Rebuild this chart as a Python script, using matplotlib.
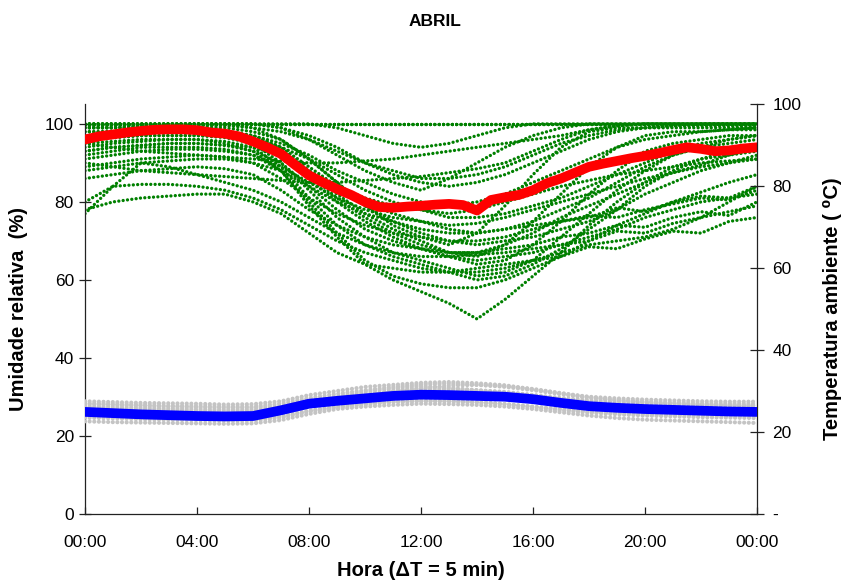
import numpy as np
import matplotlib
matplotlib.use("Agg")
import matplotlib.pyplot as plt
from matplotlib.ticker import FixedLocator, FuncFormatter

plt.rcParams['font.family'] = ['Liberation Sans', 'DejaVu Sans']

# ---------------- data ----------------
hours = list(range(25))                      # hourly samples 00:00 .. 24:00
half_hours = [i * 0.5 for i in range(49)]    # half-hourly samples

x_tick_hours = [0, 4, 8, 12, 16, 20, 24]
x_tick_labels = ["00:00", "04:00", "08:00", "12:00", "16:00", "20:00", "00:00"]
rh_ticks = [0, 20, 40, 60, 80, 100]
temp_ticks = [0, 20, 40, 60, 80, 100]

# daily relative humidity (%) curves, hourly
rh_days = [
    [100]*25,
    [100]*25,
    [100]*25,
    [100,100,100,100,100,100,100,100,100,99,97,95,94,95,97,99,100,100,100,100,100,100,100,100,100],
    [99,99,99.5,100,100,100,100,99,96,92,88,85,83,86,90,94,97,99,100,100,100,100,100,100,100],
    [99,99,99,99,99,99,98,96,91,85,79,74,71,69,72,79,87,94,98,99,99,99,99,99,99],
    [98,98,98.5,98.5,98.5,98,97,94,88,82,77,73,70,67,66,69,75,82,89,94,97,98,98,98.5,98.5],
    [97,97.5,98,98,98,97.5,96,92,86,80,75,71,68,66,64,65,69,75,82,88,93,95,96,97,97],
    [96,96.5,97,97,97,96.5,95,90,83,76,71,67,65,63,61,62,65,71,77,83,88,92,94,95,96],
    [95,95.5,96,96,96,95.5,94,89,81,74,69,66,64,62,60,61,64,68,73,78,84,88,91,93,94],
    [94,95,95.5,96,96,95,93,88,79,71,64,60,57,54,50,55,61,67,74,80,85,89,91,92,93],
    [95,94,93,92.5,92,91.5,91,90.5,90,90,90.5,91,92,93,94,95,96,97,98.5,99.5,100,100,100,100,100],
    [90,89,88,87.5,87,86.5,86,85.5,85,85,85.5,86,86.5,87.5,88.5,90,93,96,98.5,99.5,100,100,100,100,100],
    [93,94,94.5,95,95,94.5,94,92,88,84,81,79,78,77,78,80,82,84,85.5,87,88,89,90,90.5,91],
    [91,92,93,93.5,93.5,93,92,89,85,81,78,76,75,74,74.5,76,78,80,82,84,86,87.5,89,90,91],
    [89,90,91,91.5,92,91.5,90,86,81,77,74,72,71,70,70,71,73,75,76,78.5,77.5,80,81.5,81,84],
    [86,87,88,88.5,89,88.5,87,83,78,74,71,69,68,67,67,68,69,71,72,74,73.5,76,77.5,76.5,80],
    [77,84,90,89,87,85,83,80,76,72,69,67,66,66,66.5,67,68,69,70,72.5,72,74.5,76,77.5,79],
    [80,84,84.5,84.5,84,83,81,78,74,70,67,65,63,62,62,63,65,66,68.5,68,70.5,72.5,72,75,76],
    [78,80,81,81.5,82,82,80,77,72,67,64,63,62,62,63,64,65,67,69,70,71,73,76,80,84],
    [99,99,99,99,99,98,97,93,87,81,76,72,69,67,67,69,72,76,79,82,85,87.5,89.5,92,94],
    [100,100,100,100,100,100,99,96,91,85,79,75,72,70,69,70,71,73,75,78,82,85,88,90,92],
    [98,98,98,98,98,97.5,97,94,89,84,80,77,75,73,72,73,75,78,81,85,89,92,94,96,97],
    [97,97,97.5,98,98,98,97,95,92,88,85,82,80,79,80,82,85,88,91,94,96,97,98,98.5,99],
    [96,96.5,97,97,97,97,96,94,91,87,83,80,78,76,76,77,79,81,84,87,90,93,95,96,97],
    [88,89,90,90.5,91,91,90,88,84,80,77,75,73,72,72,73,74,75,76.5,76,78,79.5,81,80.5,83],
    [93,94,94.5,95,95,94.5,93,90,84,78,73,70,68,66,65,66,67,69,71,73,76,78,80,81,82],
    [100,100,100,100,100,100,100,99,97,94,90,87,85,84,85,87,90,93,96,98,99,99.5,100,100,100],
    [99.5,99.5,99.5,99.5,99.5,99.5,99,98,96,93,90,88,86,86,87,89,92,95,97,98.5,99,99.5,99.5,99.5,99.5],
    [92,93,94,94,94,93.5,92,88,80,72,65,61,59,58,58,60,63,66,70,74,77,80,82.5,85,87],
]

# mean relative humidity (%), half-hourly
rh_mean = [96, 96.8, 97.3, 97.8, 98.2, 98.5, 98.6, 98.6, 98.4, 97.8, 97.5, 96.8, 95.5, 94,
           92.3, 89.5, 86.8, 85, 83.3, 81.8, 80, 78.7, 78.5, 78.8, 79, 79.3, 79.5, 79.2,
           77.8, 80.5, 81.2, 81.8, 83, 84.8, 86, 87.5, 89, 89.8, 90.5, 91.2, 91.8, 92.5,
           93.3, 94, 93.6, 93, 93.2, 93.7, 94]

# daily ambient temperature (C) curves, hourly
temp_days = [
    [25.5,25.3,25.1,25,24.9,24.8,24.8,25.5,27,28,29,30,30.5,30.5,30.2,29.8,29,28,27.2,26.7,26.3,26,25.8,25.6,25.5],
    [27.0,26.8,26.6,26.4,26.3,26.2,26.2,26.9,28.3,29.3,30.2,31.0,31.6,31.8,31.5,31.0,30.2,29.2,28.3,27.7,27.4,27.2,27.0,26.9,26.8],
    [23.5,23.3,23.1,23.0,22.9,22.8,22.8,23.5,25.0,26.0,26.7,27.3,27.5,27.5,27.3,26.8,26.1,25.3,24.7,24.3,24.0,23.8,23.6,23.5,23.4],
    [27.5,27.3,27.1,27.0,26.9,26.7,26.8,27.5,29.0,30.0,31.0,31.5,32.0,32.2,31.9,31.4,30.4,29.4,28.6,28.2,27.9,27.7,27.5,27.4,27.4],
    [22.6,22.4,22.3,22.2,22.1,22.0,22.1,22.9,24.4,25.6,26.2,26.6,26.9,26.8,26.6,26.2,25.6,24.8,24.0,23.4,23.0,22.8,22.6,22.4,22.2],
    [25,24.8,24.6,24.5,24.4,24.3,24.4,25.2,26.8,27.8,28.8,29.5,30,30.1,29.8,29.4,28.7,27.8,27,26.4,26,25.7,25.4,25.2,25],
    [26,25.7,25.5,25.3,25.1,25,25,25.6,27.2,28.4,29.2,29.8,29.6,29,28.5,28.2,27.8,27.2,26.6,26.2,26,25.8,25.6,25.5,25.4],
    [24.5,24.3,24.2,24.1,24,24,24.1,24.8,26.2,27.3,28.2,28.9,29.4,29.6,29.5,29.1,28.4,27.5,26.8,26.2,25.8,25.5,25.2,25,24.8],
    [26.3,26.1,25.9,25.7,25.5,25.4,25.4,25.9,27.0,28.0,29.0,30.0,30.7,31.3,31.5,31.2,30.5,29.5,28.5,27.8,27.3,27.0,26.7,26.5,26.3],
    [24.0,23.8,23.6,23.4,23.3,23.2,23.2,23.8,25.2,26.2,27.0,27.4,27.6,27.5,27.2,26.8,26.2,25.6,25.0,24.6,24.4,24.2,24.1,24.0,23.9],
    [26.8,26.6,26.4,26.2,26.0,25.9,25.9,26.3,27.5,28.7,29.8,30.6,31.2,30.8,30.2,29.6,29.0,28.3,27.7,27.3,27.0,26.8,26.6,26.5,26.4],
]

# mean ambient temperature (C), hourly
temp_mean = [24.9, 24.6, 24.3, 24.1, 23.9, 23.8, 23.9, 25.3, 26.9, 27.6, 28.2, 28.8, 29.1,
             29.0, 28.8, 28.6, 28.0, 27.1, 26.3, 25.9, 25.6, 25.4, 25.2, 25.0, 24.9]

# ---------------- figure ----------------
fig = plt.figure(figsize=(8.49, 5.80), dpi=100)
ax = fig.add_axes([85/849, 66/580, 672/849, 410/580])
ax2 = ax.twinx()

green = '#008000'
for d in rh_days:
    ax.plot(hours, d, color=green, lw=2.4, linestyle=(0, (0.01, 1.3)),
            dash_capstyle='round', solid_capstyle='round', zorder=2)
ax.plot(half_hours, rh_mean, color='#FF0000', lw=7, solid_capstyle='round',
        solid_joinstyle='round', zorder=4)

for d in temp_days:
    ax2.plot(hours, d, color='#C4C4C4', lw=3.0, linestyle=(0, (0.01, 1.1)),
             dash_capstyle='round', zorder=2)
ax2.plot(hours, temp_mean, color='#0000FF', lw=7, solid_capstyle='round',
         solid_joinstyle='round', zorder=4)

ax.set_xlim(0, 24)
ax.set_ylim(0, 105.1)
ax2.set_ylim(0, 100)

ax.xaxis.set_major_locator(FixedLocator(x_tick_hours))
ax.set_xticklabels(x_tick_labels)
ax.yaxis.set_major_locator(FixedLocator(rh_ticks))
ax2.yaxis.set_major_locator(FixedLocator(temp_ticks))
ax2.yaxis.set_major_formatter(FuncFormatter(lambda v, p: '-' if v == 0 else f'{v:.0f}'))

for a in (ax, ax2):
    a.spines['top'].set_visible(False)
    for s in a.spines.values():
        s.set_linewidth(0.9)
        s.set_color('#222222')
ax.spines['right'].set_visible(False)
ax2.spines['left'].set_visible(False)
ax2.spines['bottom'].set_visible(False)

fs_tick = 12.5
ax.tick_params(axis='x', direction='in', length=5, width=0.9, labelsize=fs_tick, pad=15, colors='#222222', labelcolor='black')
ax.tick_params(axis='y', direction='inout', length=8, width=0.9, labelsize=fs_tick, pad=4, colors='#222222', labelcolor='black')
ax2.tick_params(axis='y', direction='inout', length=10, width=0.9, labelsize=fs_tick, pad=6, colors='#222222', labelcolor='black')

ax.set_xlabel('Hora (\u0394T = 5 min)', fontsize=14.5, fontweight='bold', labelpad=8)
ax.set_ylabel('Umidade relativa  (%)', fontsize=14.5, fontweight='bold', labelpad=12)
ax2.set_ylabel('Temperatura ambiente ( \u2070C)', fontsize=14.5, fontweight='bold', labelpad=16)

fig.text(435/849, 1 - 22/580, 'ABRIL', ha='center', va='center', fontsize=12.5, fontweight='bold')

fig.savefig('out.png', dpi=100)
